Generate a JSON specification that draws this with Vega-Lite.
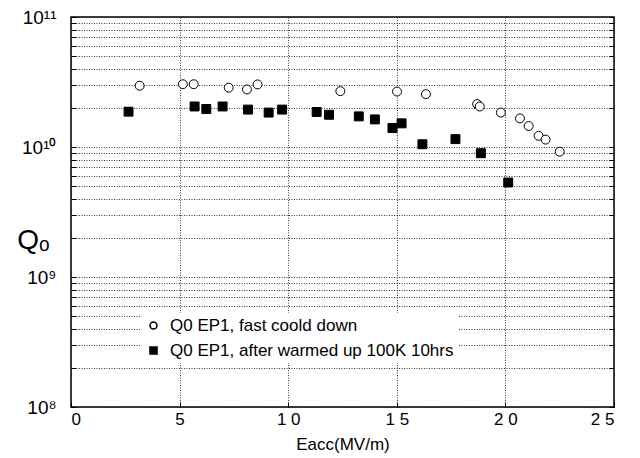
{
  "$schema": "https://vega.github.io/schema/vega-lite/v6.json",
  "width": 543,
  "height": 390,
  "autosize": "none",
  "padding": {"left": 71, "top": 17, "right": 26, "bottom": 51},
  "background": "white",
  "config": {
    "font": "Liberation Sans",
    "view": {"stroke": "black", "strokeWidth": 1.5},
    "axis": {"labelColor": "black", "titleColor": "black", "titleFontWeight": "normal", "domain": false, "tickColor": "black"}
  },
  "data": {
    "values": [
      {"E": 3.16, "Q": 2.96e10, "series": "Q0 EP1, fast coold down"},
      {"E": 5.15, "Q": 3.04e10, "series": "Q0 EP1, fast coold down"},
      {"E": 5.65, "Q": 3.04e10, "series": "Q0 EP1, fast coold down"},
      {"E": 7.26, "Q": 2.86e10, "series": "Q0 EP1, fast coold down"},
      {"E": 8.10, "Q": 2.77e10, "series": "Q0 EP1, fast coold down"},
      {"E": 8.59, "Q": 3.03e10, "series": "Q0 EP1, fast coold down"},
      {"E": 12.4, "Q": 2.69e10, "series": "Q0 EP1, fast coold down"},
      {"E": 15.01, "Q": 2.67e10, "series": "Q0 EP1, fast coold down"},
      {"E": 16.34, "Q": 2.55e10, "series": "Q0 EP1, fast coold down"},
      {"E": 18.70, "Q": 2.14e10, "series": "Q0 EP1, fast coold down"},
      {"E": 18.82, "Q": 2.05e10, "series": "Q0 EP1, fast coold down"},
      {"E": 19.79, "Q": 1.84e10, "series": "Q0 EP1, fast coold down"},
      {"E": 20.67, "Q": 1.66e10, "series": "Q0 EP1, fast coold down"},
      {"E": 21.07, "Q": 1.45e10, "series": "Q0 EP1, fast coold down"},
      {"E": 21.53, "Q": 1.22e10, "series": "Q0 EP1, fast coold down"},
      {"E": 21.85, "Q": 1.14e10, "series": "Q0 EP1, fast coold down"},
      {"E": 22.5, "Q": 9.2e9, "series": "Q0 EP1, fast coold down"},
      {"E": 2.65, "Q": 1.87e10, "series": "Q0 EP1, after warmed up 100K 10hrs"},
      {"E": 5.69, "Q": 2.05e10, "series": "Q0 EP1, after warmed up 100K 10hrs"},
      {"E": 6.23, "Q": 1.96e10, "series": "Q0 EP1, after warmed up 100K 10hrs"},
      {"E": 6.98, "Q": 2.05e10, "series": "Q0 EP1, after warmed up 100K 10hrs"},
      {"E": 8.15, "Q": 1.94e10, "series": "Q0 EP1, after warmed up 100K 10hrs"},
      {"E": 9.10, "Q": 1.84e10, "series": "Q0 EP1, after warmed up 100K 10hrs"},
      {"E": 9.72, "Q": 1.94e10, "series": "Q0 EP1, after warmed up 100K 10hrs"},
      {"E": 11.31, "Q": 1.86e10, "series": "Q0 EP1, after warmed up 100K 10hrs"},
      {"E": 11.88, "Q": 1.77e10, "series": "Q0 EP1, after warmed up 100K 10hrs"},
      {"E": 13.25, "Q": 1.72e10, "series": "Q0 EP1, after warmed up 100K 10hrs"},
      {"E": 13.99, "Q": 1.63e10, "series": "Q0 EP1, after warmed up 100K 10hrs"},
      {"E": 14.8, "Q": 1.40e10, "series": "Q0 EP1, after warmed up 100K 10hrs"},
      {"E": 15.22, "Q": 1.52e10, "series": "Q0 EP1, after warmed up 100K 10hrs"},
      {"E": 16.18, "Q": 1.05e10, "series": "Q0 EP1, after warmed up 100K 10hrs"},
      {"E": 17.70, "Q": 1.15e10, "series": "Q0 EP1, after warmed up 100K 10hrs"},
      {"E": 18.87, "Q": 8.96e9, "series": "Q0 EP1, after warmed up 100K 10hrs"},
      {"E": 20.13, "Q": 5.33e9, "series": "Q0 EP1, after warmed up 100K 10hrs"}
    ]
  },
  "layer": [
    {
      "mark": {"type": "point", "opacity": 1, "strokeWidth": 1, "size": 80},
      "encoding": {
        "x": {
          "field": "E", "type": "quantitative",
          "scale": {"domain": [0, 25], "nice": false},
          "axis": {
            "values": [0, 5, 10, 15, 20, 25],
            "title": "Eacc(MV/m)", "titleFontSize": 17, "titlePadding": 9,
            "labelFontSize": 17, "labelPadding": 9,
            "labelExpr": "datum.value == 0 ? '0' : datum.value == 5 ? '5' : datum.value == 10 ? '1 0' : datum.value == 15 ? '1 5' : datum.value == 20 ? '2 0' : '2 5'",
            "tickSize": -5, "grid": true, "gridDash": [1, 1.5], "gridColor": "#222", "gridWidth": 0.9
          }
        },
        "y": {
          "field": "Q", "type": "quantitative",
          "scale": {"type": "log", "domain": [1e8, 1e11], "nice": false},
          "axis": {
            "values": [1e8, 2e8, 3e8, 4e8, 5e8, 6e8, 7e8, 8e8, 9e8, 1e9, 2e9, 3e9, 4e9, 5e9, 6e9, 7e9, 8e9, 9e9, 1e10, 2e10, 3e10, 4e10, 5e10, 6e10, 7e10, 8e10, 9e10, 1e11],
            "labelExpr": "datum.value == 1e8 ? '10⁸' : datum.value == 1e9 ? '10⁹' : datum.value == 1e10 ? '10¹⁰' : datum.value == 1e11 ? '10¹¹' : ''",
            "labelOverlap": false, "labelFontSize": 19, "labelPadding": 20,
            "tickSize": -5, "grid": true, "gridDash": [1, 1.5], "gridColor": "#222", "gridWidth": 0.9,
            "title": "Qₒ", "titleFontSize": 28, "titleAngle": 0, "titleAlign": "center", "titleBaseline": "middle",
            "titleX": -38, "titleY": 223
          }
        },
        "shape": {
          "field": "series", "type": "nominal",
          "scale": {"domain": ["Q0 EP1, fast coold down", "Q0 EP1, after warmed up 100K 10hrs"], "range": ["circle", "square"]},
          "legend": {
            "orient": "none", "legendX": 70, "legendY": 296, "title": null,
            "labelFontSize": 17, "labelColor": "black", "symbolSize": 50,
            "rowPadding": 7, "fillColor": "white", "padding": 4, "labelOffset": 8, "labelLimit": 400,
            "encode": {"symbols": {"update": {"stroke": {"value": "black"}, "strokeWidth": {"value": 1}}}}
          }
        },
        "fill": {
          "field": "series", "type": "nominal",
          "scale": {"domain": ["Q0 EP1, fast coold down", "Q0 EP1, after warmed up 100K 10hrs"], "range": ["white", "black"]},
          "legend": {
            "orient": "none", "legendX": 70, "legendY": 296, "title": null,
            "labelFontSize": 17, "labelColor": "black", "symbolSize": 50,
            "rowPadding": 7, "fillColor": "white", "padding": 4, "labelOffset": 8, "labelLimit": 400,
            "encode": {"symbols": {"update": {"stroke": {"value": "black"}, "strokeWidth": {"value": 1}}}}
          }
        },
        "stroke": {"value": "black"}
      }
    },
    {
      "mark": {"type": "point", "opacity": 0},
      "encoding": {
        "x": {"field": "E", "type": "quantitative"},
        "y": {
          "field": "Q", "type": "quantitative",
          "axis": {
            "orient": "right", "labels": false, "grid": false, "title": null, "tickSize": -5,
            "values": [1e8, 2e8, 3e8, 4e8, 5e8, 6e8, 7e8, 8e8, 9e8, 1e9, 2e9, 3e9, 4e9, 5e9, 6e9, 7e9, 8e9, 9e9, 1e10, 2e10, 3e10, 4e10, 5e10, 6e10, 7e10, 8e10, 9e10, 1e11]
          }
        }
      }
    }
  ],
  "resolve": {"axis": {"y": "independent"}}
}
